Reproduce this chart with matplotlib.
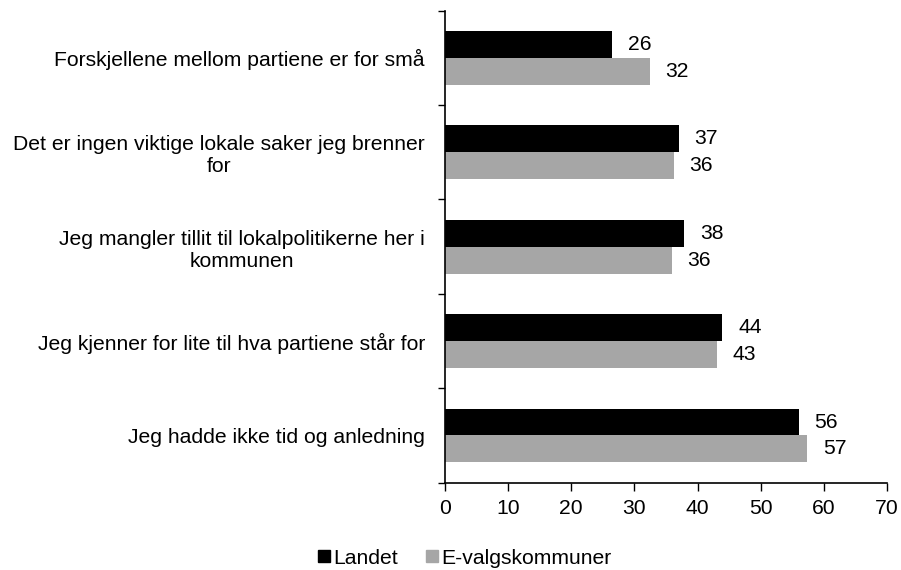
import matplotlib as mpl
import matplotlib.pyplot as plt
import numpy as np
from matplotlib.patches import Patch

FS = 15.2

mpl.rcParams.update({
    "font.family": ["Liberation Sans", "DejaVu Sans"],
    "font.size": FS,
})

# ── Data ──────────────────────────────────────────────────────────────────────
categories = [
    "Forskjellene mellom partiene er for små",
    "Det er ingen viktige lokale saker jeg brenner\nfor",
    "Jeg mangler tillit til lokalpolitikerne her i\nkommunen",
    "Jeg kjenner for lite til hva partiene står for",
    "Jeg hadde ikke tid og anledning",
]
landet = [26.4, 37.0, 37.9, 43.9, 56.0]
evalg = [32.4, 36.2, 35.9, 43.0, 57.3]
series_names = ["Landet", "E-valgskommuner"]
xticks = [0, 10, 20, 30, 40, 50, 60, 70]

BLACK = "#000000"
GREY = "#A6A6A6"

fig = plt.figure(figsize=(9.01, 5.70), dpi=100)
ax = fig.add_axes([445 / 901, 1 - 482.7 / 570, (887 - 445) / 901, (482.7 - 10.7) / 570])

n = len(categories)
y = np.arange(n)
h = 0.285

b1 = ax.barh(y - h / 2, landet, height=h, color=BLACK)
b2 = ax.barh(y + h / 2, evalg, height=h, color=GREY)

ax.bar_label(b1, labels=[f"{v:.0f}" for v in landet], padding=11.5, fontsize=FS)
ax.bar_label(b2, labels=[f"{v:.0f}" for v in evalg], padding=11.5, fontsize=FS)

ax.set_ylim(n - 0.5, -0.5)
ax.set_xlim(0, 70)
ax.set_xticks(xticks)

# category boundaries as major ticks, labels on minor ticks
ax.set_yticks(np.arange(n + 1) - 0.5)
ax.set_yticklabels([])
ax.set_yticks(y, minor=True)
ax.set_yticklabels(categories, minor=True, ha="right", multialignment="center")
ax.tick_params(axis="y", which="major", length=5, width=1, direction="out")
ax.tick_params(axis="y", which="minor", length=0, pad=14.4)
ax.tick_params(axis="x", length=6, width=1, direction="out", pad=6, labelsize=FS)

for side in ["top", "right"]:
    ax.spines[side].set_visible(False)
for side in ["left", "bottom"]:
    ax.spines[side].set_linewidth(1.2)

handles = [Patch(color=BLACK), Patch(color=GREY)]
fig.legend(handles, series_names, loc="center", bbox_to_anchor=(0.516, 1 - 558 / 570),
           ncol=2, frameon=False, handlelength=0.56, handleheight=0.56,
           handletextpad=0.19, columnspacing=1.3, fontsize=FS)

fig.savefig("out.png", dpi=100)
